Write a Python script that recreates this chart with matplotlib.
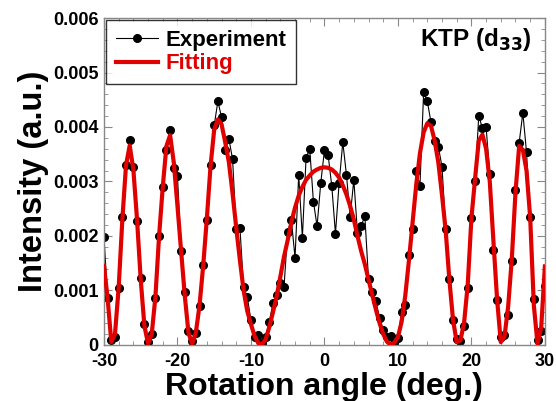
import matplotlib
matplotlib.use("Agg")
import matplotlib.pyplot as plt
from matplotlib.ticker import MultipleLocator

# ── data ──────────────────────────────────────────────────────────────────────
angle_deg = [x * 0.5 for x in range(-60, 61)]

exp_intensity = [
    0.00198, 0.00086, 0.00009, 0.00015, 0.00105, 0.00235, 0.00330, 0.00376,
    0.00326, 0.00227, 0.00122, 0.00038, 0.00006, 0.00020, 0.00086, 0.00200,
    0.00289, 0.00357, 0.00395, 0.00324, 0.00310, 0.00172, 0.00097, 0.00026,
    0.00008, 0.00022, 0.00071, 0.00147, 0.00230, 0.00331, 0.00403, 0.00447,
    0.00418, 0.00358, 0.00378, 0.00341, 0.00212, 0.00215, 0.00106, 0.00088,
    0.00045, 0.00014, 0.00018, 0.00003, 0.00015, 0.00042, 0.00077, 0.00092,
    0.00113, 0.00106, 0.00208, 0.00229, 0.00160, 0.00312, 0.00197, 0.00343,
    0.00360, 0.00263, 0.00218, 0.00297, 0.00357, 0.00349, 0.00292, 0.00204,
    0.00297, 0.00372, 0.00312, 0.00235, 0.00303, 0.00205, 0.00218, 0.00237,
    0.00120, 0.00097, 0.00080, 0.00050, 0.00028, 0.00015, 0.00017, 0.00003,
    0.00013, 0.00061, 0.00074, 0.00165, 0.00213, 0.00320, 0.00292, 0.00464,
    0.00447, 0.00409, 0.00375, 0.00364, 0.00327, 0.00213, 0.00120, 0.00046,
    0.00011, 0.00008, 0.00035, 0.00105, 0.00232, 0.00301, 0.00420, 0.00398,
    0.00400, 0.00314, 0.00174, 0.00083, 0.00015, 0.00018, 0.00054, 0.00154,
    0.00284, 0.00371, 0.00426, 0.00354, 0.00235, 0.00084, 0.00009, 0.00026,
    0.00108,
]

fit_intensity = [
    0.00145, 0.00085, 0.00005, 0.00020, 0.00105, 0.00230, 0.00330, 0.00366,
    0.00322, 0.00230, 0.00120, 0.00035, 0.00002, 0.00020, 0.00088, 0.00200,
    0.00290, 0.00365, 0.00385, 0.00335, 0.00255, 0.00172, 0.00090, 0.00022,
    0.00002, 0.00022, 0.00072, 0.00145, 0.00232, 0.00328, 0.00395, 0.00414,
    0.00405, 0.00372, 0.00335, 0.00278, 0.00215, 0.00155, 0.00100, 0.00062,
    0.00038, 0.00016, 0.00003, 0.00001, 0.00010, 0.00033, 0.00060, 0.00089,
    0.00125, 0.00162, 0.00192, 0.00225, 0.00252, 0.00274, 0.00290, 0.00303,
    0.00311, 0.00318, 0.00322, 0.00325, 0.00326, 0.00325, 0.00322, 0.00316,
    0.00307, 0.00293, 0.00276, 0.00255, 0.00230, 0.00200, 0.00172, 0.00148,
    0.00120, 0.00092, 0.00065, 0.00040, 0.00020, 0.00006, 0.00000, 0.00004,
    0.00014, 0.00042, 0.00090, 0.00155, 0.00225, 0.00295, 0.00352, 0.00390,
    0.00407, 0.00402, 0.00375, 0.00335, 0.00275, 0.00210, 0.00120, 0.00046,
    0.00005, 0.00008, 0.00040, 0.00110, 0.00232, 0.00305, 0.00375, 0.00386,
    0.00360, 0.00300, 0.00190, 0.00083, 0.00005, 0.00015, 0.00070, 0.00158,
    0.00280, 0.00365, 0.00358, 0.00320, 0.00234, 0.00072, 0.00002, 0.00032,
    0.00144,
]

x_ticks = [-30, -20, -10, 0, 10, 20, 30]
y_ticks = [0, 0.001, 0.002, 0.003, 0.004, 0.005, 0.006]
y_tick_labels = ["0", "0.001", "0.002", "0.003", "0.004", "0.005", "0.006"]

# ── plot ──────────────────────────────────────────────────────────────────────
plt.rcParams["font.family"] = ["Liberation Sans", "DejaVu Sans"]
plt.rcParams["font.weight"] = "bold"
plt.rcParams["axes.unicode_minus"] = False

fig = plt.figure(figsize=(5.56, 4.01), dpi=100)
ax = fig.add_axes([0.187, 0.140, 0.793, 0.815])

ax.plot(angle_deg, exp_intensity, color="black", lw=0.8, marker="o",
        ms=5.5, label="Experiment", zorder=2)
ax.plot(angle_deg, fit_intensity, color="#e00000", lw=3, label="Fitting",
        zorder=3)

ax.set_xlim(-30, 30)
ax.set_ylim(0, 0.006)
ax.set_xticks(x_ticks)
ax.set_xticklabels([str(v) for v in x_ticks])
ax.set_yticks(y_ticks)
ax.set_yticklabels(y_tick_labels)
ax.xaxis.set_minor_locator(MultipleLocator(2))
ax.yaxis.set_minor_locator(MultipleLocator(0.0002))

ax.tick_params(which="both", direction="in", top=True, right=True,
               color="#888888", labelsize=13)
ax.tick_params(axis="x", pad=6)
ax.tick_params(axis="y", pad=4)
ax.tick_params(which="major", length=6)
ax.tick_params(which="minor", length=3)
for lbl in ax.get_xticklabels() + ax.get_yticklabels():
    lbl.set_fontweight("bold")
for sp in ax.spines.values():
    sp.set_color("#888888")
    sp.set_linewidth(1.0)

ax.set_xlabel("Rotation angle (deg.)", fontsize=23, fontweight="bold",
              labelpad=1)
ax.set_ylabel("Intensity (a.u.)", fontsize=23.5, fontweight="bold",
              labelpad=3)

leg = ax.legend(loc="upper left", fontsize=16, frameon=True, fancybox=False,
                borderaxespad=0.1, handlelength=1.9, handletextpad=0.3,
                borderpad=0.45, labelspacing=0.1)
leg.get_frame().set_edgecolor("black")
leg.get_frame().set_linewidth(1.0)
leg.get_texts()[0].set_color("black")
leg.get_texts()[1].set_color("#e00000")
for t in leg.get_texts():
    t.set_fontweight("bold")

ax.text(0.97, 0.933, "KTP (d$_{\\mathbf{33}}$)", transform=ax.transAxes,
        ha="right", va="center", fontsize=17.5, fontweight="bold")

plt.savefig("out.png", dpi=100)
